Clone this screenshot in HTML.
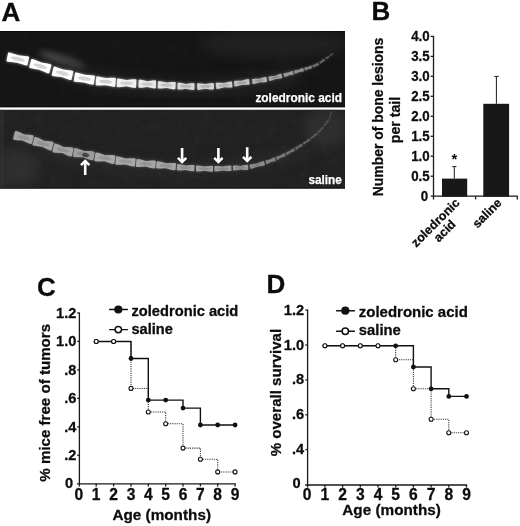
<!DOCTYPE html>
<html lang="en">
<head>
<meta charset="utf-8">
<title>Figure: zoledronic acid vs saline</title>
<style>
html,body{margin:0;padding:0;background:#fff;}
body{width:520px;height:526px;overflow:hidden;}
svg{display:block;will-change:transform;}
text{font-family:"Liberation Sans",Arial,Helvetica,sans-serif;font-weight:bold;fill:#0c0c0c;stroke:#0c0c0c;stroke-width:0.28px;stroke-linejoin:round;}
.wt{fill:#fff;stroke:#fff;stroke-width:0.25px;}
.pl{font-size:26px;}
.ax{stroke:#1a1a1a;stroke-width:1.3;fill:none;}
.sol{stroke:#111;stroke-width:1.4;fill:none;}
.dot{stroke:#3a3a3a;stroke-width:1.05;fill:none;stroke-dasharray:1.2 1;}
.fm{fill:#111;stroke:none;}
.om{fill:#fff;stroke:#111;stroke-width:1.1;}
</style>
</head>
<body>
<svg width="520" height="526" viewBox="0 0 520 526">
<defs>
<filter id="b1" x="-5%" y="-30%" width="110%" height="160%"><feGaussianBlur stdDeviation="0.7"/></filter>
<filter id="b2" x="-5%" y="-30%" width="110%" height="160%"><feGaussianBlur stdDeviation="0.6"/></filter>
<filter id="bloom" x="-5%" y="-50%" width="110%" height="200%"><feGaussianBlur stdDeviation="1.6"/></filter>
<filter id="glow2" x="-30%" y="-100%" width="160%" height="300%"><feGaussianBlur stdDeviation="3"/></filter>
<filter id="glow" x="-20%" y="-50%" width="140%" height="200%"><feGaussianBlur stdDeviation="6"/></filter>
<filter id="noise" x="0" y="0" width="100%" height="100%">
<feTurbulence type="fractalNoise" baseFrequency="0.09" numOctaves="3" seed="4" result="n"/>
<feColorMatrix type="matrix" values="0 0 0 0 1  0 0 0 0 1  0 0 0 0 1  0.5 0.5 0 0 -0.42"/>
</filter>
<clipPath id="c1"><rect x="0" y="31" width="345" height="76.4"/></clipPath>
<clipPath id="c2"><rect x="0" y="109.5" width="345" height="79.2"/></clipPath>
</defs>
<rect width="520" height="526" fill="#fff"/>

<text class="pl" x="1.4" y="20.8">A</text>
<g clip-path="url(#c1)">
<rect x="0" y="31" width="345" height="76.4" fill="#151515"/>
<rect x="0" y="31" width="345" height="76.4" filter="url(#noise)" opacity="0.05"/>
<path d="M0 31.4 H345 M0 107 H345" stroke="#050505" stroke-width="0.9"/>
<ellipse cx="275" cy="44" rx="75" ry="14" fill="#2c2c2c" opacity="0.55" filter="url(#glow)"/>
<ellipse cx="62" cy="60" rx="24" ry="4.5" fill="#6a6a6a" opacity="0.6" filter="url(#glow2)" transform="rotate(18 62 60)"/>
<path d="M60 70 Q180 105 300 74" stroke="#2a2a2a" stroke-width="18" fill="none" opacity="0.5" filter="url(#glow)"/>
<g filter="url(#bloom)" opacity="0.55"><path d="M8.2 52.6 L9.5 52.4 L12.8 53.4 L18.6 55.2 L24.6 55.9 L28.0 56.2 L29.2 57.0 L27.4 65.4 L26.1 65.6 L22.8 64.6 L17.0 62.8 L11.0 62.1 L7.6 61.8 L6.4 61.0Z" fill="#fcfcfc"/>
<path d="M31.4 59.0 L32.8 58.9 L35.9 60.2 L41.4 62.5 L47.2 63.6 L50.6 64.2 L51.6 65.1 L49.2 73.3 L47.8 73.4 L44.7 72.1 L39.2 69.8 L33.4 68.7 L30.0 68.1 L29.0 67.2Z" fill="#fcfcfc"/>
<path d="M53.6 66.8 L54.9 66.6 L58.0 67.7 L63.4 69.6 L69.1 70.3 L72.3 70.7 L73.4 71.5 L71.4 79.9 L70.1 80.1 L67.0 79.0 L61.6 77.1 L55.9 76.4 L52.7 76.0 L51.6 75.2Z" fill="#fcfcfc"/>
<path d="M75.1 72.6 L76.4 72.4 L79.5 73.2 L85.0 74.8 L90.7 75.2 L94.0 75.4 L95.1 76.0 L93.7 84.6 L92.4 84.8 L89.3 84.0 L83.8 82.4 L78.1 82.0 L74.8 81.8 L73.7 81.2Z" fill="#fcfcfc"/>
<path d="M96.2 76.7 L97.5 76.3 L100.6 76.9 L106.0 77.9 L111.6 77.8 L114.8 77.7 L115.9 78.3 L115.3 86.5 L114.0 86.9 L110.9 86.3 L105.5 85.3 L99.9 85.4 L96.7 85.5 L95.6 84.9Z" fill="#f5f5f5"/><path d="M117.1 78.8 L118.2 78.5 L121.3 78.9 L126.7 80.1 L132.2 79.3 L135.3 79.2 L136.5 79.6 L136.1 87.6 L135.0 87.9 L131.9 87.5 L126.5 86.3 L121.0 87.1 L117.9 87.2 L116.7 86.8Z" fill="#f0f0f0"/>
<path d="M138.6 80.0 L139.7 79.6 L142.5 80.0 L147.4 81.2 L152.3 80.4 L155.1 80.3 L156.1 80.7 L155.9 88.1 L154.8 88.5 L152.0 88.1 L147.1 86.9 L142.2 87.7 L139.4 87.8 L138.4 87.4Z" fill="#e8e8e8"/>
<path d="M158.0 81.4 L159.1 81.1 L161.9 81.5 L166.8 82.6 L171.9 82.0 L174.7 81.9 L175.8 82.3 L175.4 89.1 L174.3 89.4 L171.5 89.0 L166.6 87.9 L161.5 88.5 L158.7 88.6 L157.6 88.2Z" fill="#e1e1e1"/>
<path d="M177.6 83.0 L178.6 82.6 L181.3 83.0 L186.1 83.9 L190.9 83.2 L193.6 83.1 L194.6 83.5 L194.4 89.7 L193.4 90.1 L190.7 89.7 L185.9 88.8 L181.1 89.5 L178.4 89.6 L177.4 89.2Z" fill="#d7d7d7"/>
<path d="M197.1 83.6 L198.1 83.3 L200.8 83.4 L205.5 84.1 L210.2 83.2 L212.8 82.9 L213.8 83.2 L214.0 89.2 L213.0 89.5 L210.3 89.4 L205.6 88.7 L200.9 89.6 L198.3 89.9 L197.3 89.6Z" fill="#d2d2d2"/>
<path d="M215.7 83.1 L216.7 82.7 L219.3 82.7 L223.9 83.0 L228.4 81.9 L230.9 81.4 L231.9 81.6 L232.5 87.2 L231.5 87.6 L228.9 87.6 L224.3 87.3 L219.8 88.4 L217.3 88.9 L216.3 88.7Z" fill="#cdcdcd"/>
<path d="M233.9 81.2 L234.8 80.8 L237.2 80.7 L241.6 80.8 L245.7 79.6 L248.1 79.1 L249.1 79.3 L249.7 84.3 L248.8 84.7 L246.4 84.8 L242.0 84.7 L237.9 85.9 L235.5 86.4 L234.5 86.2Z" fill="#c2c2c2"/>
<path d="M252.0 79.3 L252.8 79.0 L255.2 78.8 L259.3 78.8 L263.3 77.6 L265.6 77.1 L266.5 77.2 L267.1 81.8 L266.3 82.1 L263.9 82.3 L259.8 82.3 L255.8 83.5 L253.5 84.0 L252.6 83.9Z" fill="#b4b4b4"/>
<path d="M268.4 77.0 L269.1 76.6 L271.2 76.3 L275.0 75.9 L278.5 74.5 L280.5 73.8 L281.3 73.8 L282.3 77.8 L281.6 78.2 L279.5 78.5 L275.7 78.9 L272.2 80.3 L270.2 81.0 L269.4 81.0Z" fill="#a6a6a6"/>
<path d="M283.4 73.5 L284.0 73.2 L285.5 72.9 L288.2 72.6 L290.7 71.5 L292.1 71.0 L292.7 71.0 L293.7 74.4 L293.1 74.7 L291.6 75.0 L288.9 75.3 L286.4 76.4 L285.0 76.9 L284.4 76.9Z" fill="#989898"/>
<path d="M293.9 70.8 L294.4 70.5 L295.9 70.1 L298.6 69.8 L301.1 68.6 L302.6 68.1 L303.2 68.1 L304.0 71.1 L303.5 71.4 L302.0 71.8 L299.3 72.1 L296.8 73.3 L295.3 73.8 L294.7 73.8Z" fill="#8c8c8c"/>
<path d="M304.3 67.9 L304.6 67.6 L305.8 67.3 L307.9 67.0 L309.7 66.0 L310.8 65.6 L311.3 65.6 L312.1 68.2 L311.8 68.5 L310.6 68.8 L308.5 69.1 L306.7 70.1 L305.6 70.5 L305.1 70.5Z" fill="#808080"/>
<path d="M312.3 65.4 L312.6 65.1 L313.5 64.8 L315.3 64.3 L316.8 63.3 L317.7 62.7 L318.1 62.7 L319.1 64.9 L318.8 65.2 L317.9 65.5 L316.1 66.0 L314.6 67.0 L313.7 67.6 L313.3 67.6Z" fill="#727272"/>
<path d="M319.1 62.2 L319.3 61.9 L320.1 61.4 L321.6 60.6 L322.7 59.5 L323.4 58.9 L323.8 58.8 L325.0 60.4 L324.8 60.7 L324.0 61.2 L322.5 62.0 L321.4 63.1 L320.7 63.7 L320.3 63.8Z" fill="#666666"/>
<path d="M325.0 58.1 L325.2 57.8 L325.8 57.5 L326.9 57.0 L327.8 56.2 L328.3 55.7 L328.6 55.7 L329.6 57.1 L329.4 57.4 L328.8 57.7 L327.7 58.2 L326.8 59.0 L326.3 59.5 L326.0 59.5Z" fill="#5a5a5a"/>
<path d="M329.6 55.1 L329.7 54.9 L330.3 54.6 L331.3 54.1 L332.0 53.3 L332.5 52.9 L332.8 52.9 L333.6 54.1 L333.5 54.3 L332.9 54.6 L331.9 55.1 L331.2 55.9 L330.7 56.3 L330.4 56.3Z" fill="#4e4e4e"/></g>
<g filter="url(#b1)"><path d="M8.2 52.6 L9.5 52.4 L12.8 53.4 L18.6 55.2 L24.6 55.9 L28.0 56.2 L29.2 57.0 L27.4 65.4 L26.1 65.6 L22.8 64.6 L17.0 62.8 L11.0 62.1 L7.6 61.8 L6.4 61.0Z" fill="#fcfcfc"/>
<ellipse cx="17.8" cy="59.0" rx="7.1" ry="2.0" fill="#c0c0c0" opacity="0.65" transform="rotate(11.8 17.8 59.0)"/>
<path d="M31.4 59.0 L32.8 58.9 L35.9 60.2 L41.4 62.5 L47.2 63.6 L50.6 64.2 L51.6 65.1 L49.2 73.3 L47.8 73.4 L44.7 72.1 L39.2 69.8 L33.4 68.7 L30.0 68.1 L29.0 67.2Z" fill="#fcfcfc"/>
<ellipse cx="40.3" cy="66.2" rx="7.0" ry="2.0" fill="#c0c0c0" opacity="0.65" transform="rotate(16.8 40.3 66.2)"/>
<path d="M53.6 66.8 L54.9 66.6 L58.0 67.7 L63.4 69.6 L69.1 70.3 L72.3 70.7 L73.4 71.5 L71.4 79.9 L70.1 80.1 L67.0 79.0 L61.6 77.1 L55.9 76.4 L52.7 76.0 L51.6 75.2Z" fill="#fcfcfc"/>
<ellipse cx="62.5" cy="73.3" rx="6.7" ry="2.0" fill="#c0c0c0" opacity="0.65" transform="rotate(13.4 62.5 73.3)"/>
<path d="M75.1 72.6 L76.4 72.4 L79.5 73.2 L85.0 74.8 L90.7 75.2 L94.0 75.4 L95.1 76.0 L93.7 84.6 L92.4 84.8 L89.3 84.0 L83.8 82.4 L78.1 82.0 L74.8 81.8 L73.7 81.2Z" fill="#fcfcfc"/>
<ellipse cx="84.4" cy="78.6" rx="6.7" ry="2.0" fill="#c0c0c0" opacity="0.65" transform="rotate(9.6 84.4 78.6)"/>
<path d="M96.2 76.7 L97.5 76.3 L100.6 76.9 L106.0 77.9 L111.6 77.8 L114.8 77.7 L115.9 78.3 L115.3 86.5 L114.0 86.9 L110.9 86.3 L105.5 85.3 L99.9 85.4 L96.7 85.5 L95.6 84.9Z" fill="#f5f5f5"/>
<ellipse cx="105.8" cy="81.6" rx="6.5" ry="1.9" fill="#b9b9b9" opacity="0.65" transform="rotate(4.6 105.8 81.6)"/><path d="M117.1 78.8 L118.2 78.5 L121.3 78.9 L126.7 80.1 L132.2 79.3 L135.3 79.2 L136.5 79.6 L136.1 87.6 L135.0 87.9 L131.9 87.5 L126.5 86.3 L121.0 87.1 L117.9 87.2 L116.7 86.8Z" fill="#f0f0f0"/>
<ellipse cx="126.6" cy="83.2" rx="6.4" ry="1.8" fill="#bebebe" opacity="0.65" transform="rotate(2.4 126.6 83.2)"/>
<path d="M138.6 80.0 L139.7 79.6 L142.5 80.0 L147.4 81.2 L152.3 80.4 L155.1 80.3 L156.1 80.7 L155.9 88.1 L154.8 88.5 L152.0 88.1 L147.1 86.9 L142.2 87.7 L139.4 87.8 L138.4 87.4Z" fill="#e8e8e8"/>
<ellipse cx="147.2" cy="84.1" rx="5.8" ry="1.7" fill="#b6b6b6" opacity="0.65" transform="rotate(2.3 147.2 84.1)"/>
<path d="M158.0 81.4 L159.1 81.1 L161.9 81.5 L166.8 82.6 L171.9 82.0 L174.7 81.9 L175.8 82.3 L175.4 89.1 L174.3 89.4 L171.5 89.0 L166.6 87.9 L161.5 88.5 L158.7 88.6 L157.6 88.2Z" fill="#e1e1e1"/>
<ellipse cx="166.7" cy="85.2" rx="5.9" ry="1.6" fill="#afafaf" opacity="0.65" transform="rotate(2.9 166.7 85.2)"/>
<path d="M177.6 83.0 L178.6 82.6 L181.3 83.0 L186.1 83.9 L190.9 83.2 L193.6 83.1 L194.6 83.5 L194.4 89.7 L193.4 90.1 L190.7 89.7 L185.9 88.8 L181.1 89.5 L178.4 89.6 L177.4 89.2Z" fill="#d7d7d7"/>
<ellipse cx="186.0" cy="86.3" rx="5.6" ry="1.5" fill="#a5a5a5" opacity="0.65" transform="rotate(1.7 186.0 86.3)"/>
<path d="M197.1 83.6 L198.1 83.3 L200.8 83.4 L205.5 84.1 L210.2 83.2 L212.8 82.9 L213.8 83.2 L214.0 89.2 L213.0 89.5 L210.3 89.4 L205.6 88.7 L200.9 89.6 L198.3 89.9 L197.3 89.6Z" fill="#d2d2d2"/>
<ellipse cx="205.6" cy="86.4" rx="5.5" ry="1.4" fill="#a0a0a0" opacity="0.65" transform="rotate(-1.4 205.6 86.4)"/>
<path d="M215.7 83.1 L216.7 82.7 L219.3 82.7 L223.9 83.0 L228.4 81.9 L230.9 81.4 L231.9 81.6 L232.5 87.2 L231.5 87.6 L228.9 87.6 L224.3 87.3 L219.8 88.4 L217.3 88.9 L216.3 88.7Z" fill="#cdcdcd"/>
<ellipse cx="224.1" cy="85.2" rx="5.4" ry="1.3" fill="#9b9b9b" opacity="0.65" transform="rotate(-5.3 224.1 85.2)"/>
<path d="M233.9 81.2 L234.8 80.8 L237.2 80.7 L241.6 80.8 L245.7 79.6 L248.1 79.1 L249.1 79.3 L249.7 84.3 L248.8 84.7 L246.4 84.8 L242.0 84.7 L237.9 85.9 L235.5 86.4 L234.5 86.2Z" fill="#c2c2c2"/>
<ellipse cx="241.8" cy="82.8" rx="5.1" ry="1.2" fill="#909090" opacity="0.65" transform="rotate(-7.1 241.8 82.8)"/>
<path d="M252.0 79.3 L252.8 79.0 L255.2 78.8 L259.3 78.8 L263.3 77.6 L265.6 77.1 L266.5 77.2 L267.1 81.8 L266.3 82.1 L263.9 82.3 L259.8 82.3 L255.8 83.5 L253.5 84.0 L252.6 83.9Z" fill="#b4b4b4"/>
<ellipse cx="259.6" cy="80.5" rx="4.8" ry="1.1" fill="#828282" opacity="0.65" transform="rotate(-8.2 259.6 80.5)"/>
<path d="M268.4 77.0 L269.1 76.6 L271.2 76.3 L275.0 75.9 L278.5 74.5 L280.5 73.8 L281.3 73.8 L282.3 77.8 L281.6 78.2 L279.5 78.5 L275.7 78.9 L272.2 80.3 L270.2 81.0 L269.4 81.0Z" fill="#a6a6a6"/>
<ellipse cx="275.4" cy="77.4" rx="4.4" ry="0.9" fill="#747474" opacity="0.65" transform="rotate(-13.9 275.4 77.4)"/>
<path d="M283.4 73.5 L284.0 73.2 L285.5 72.9 L288.2 72.6 L290.7 71.5 L292.1 71.0 L292.7 71.0 L293.7 74.4 L293.1 74.7 L291.6 75.0 L288.9 75.3 L286.4 76.4 L285.0 76.9 L284.4 76.9Z" fill="#989898"/>
<path d="M293.9 70.8 L294.4 70.5 L295.9 70.1 L298.6 69.8 L301.1 68.6 L302.6 68.1 L303.2 68.1 L304.0 71.1 L303.5 71.4 L302.0 71.8 L299.3 72.1 L296.8 73.3 L295.3 73.8 L294.7 73.8Z" fill="#8c8c8c"/>
<path d="M304.3 67.9 L304.6 67.6 L305.8 67.3 L307.9 67.0 L309.7 66.0 L310.8 65.6 L311.3 65.6 L312.1 68.2 L311.8 68.5 L310.6 68.8 L308.5 69.1 L306.7 70.1 L305.6 70.5 L305.1 70.5Z" fill="#808080"/>
<path d="M312.3 65.4 L312.6 65.1 L313.5 64.8 L315.3 64.3 L316.8 63.3 L317.7 62.7 L318.1 62.7 L319.1 64.9 L318.8 65.2 L317.9 65.5 L316.1 66.0 L314.6 67.0 L313.7 67.6 L313.3 67.6Z" fill="#727272"/>
<path d="M319.1 62.2 L319.3 61.9 L320.1 61.4 L321.6 60.6 L322.7 59.5 L323.4 58.9 L323.8 58.8 L325.0 60.4 L324.8 60.7 L324.0 61.2 L322.5 62.0 L321.4 63.1 L320.7 63.7 L320.3 63.8Z" fill="#666666"/>
<path d="M325.0 58.1 L325.2 57.8 L325.8 57.5 L326.9 57.0 L327.8 56.2 L328.3 55.7 L328.6 55.7 L329.6 57.1 L329.4 57.4 L328.8 57.7 L327.7 58.2 L326.8 59.0 L326.3 59.5 L326.0 59.5Z" fill="#5a5a5a"/>
<path d="M329.6 55.1 L329.7 54.9 L330.3 54.6 L331.3 54.1 L332.0 53.3 L332.5 52.9 L332.8 52.9 L333.6 54.1 L333.5 54.3 L332.9 54.6 L331.9 55.1 L331.2 55.9 L330.7 56.3 L330.4 56.3Z" fill="#4e4e4e"/></g>
</g>
<text x="342" y="101.6" text-anchor="end" class="wt" style="font-size:12.6px" textLength="86.6" lengthAdjust="spacingAndGlyphs">zoledronic acid</text>
<g clip-path="url(#c2)">
<rect x="0" y="109.5" width="345" height="79.2" fill="#212121"/>
<rect x="0" y="109.5" width="345" height="79.2" filter="url(#noise)" opacity="0.07"/>
<path d="M0 188.3 H345" stroke="#0a0a0a" stroke-width="0.9"/>
<rect x="0" y="109.5" width="4" height="79.2" fill="#3a3a3a" opacity="0.4" filter="url(#b1)"/>
<ellipse cx="18" cy="168" rx="22" ry="20" fill="#383838" opacity="0.6" filter="url(#glow)"/>
<ellipse cx="325" cy="128" rx="22" ry="20" fill="#383838" opacity="0.6" filter="url(#glow)"/>
<path d="M40 150 Q180 190 310 150" stroke="#303030" stroke-width="14" fill="none" opacity="0.4" filter="url(#glow)"/>
<g filter="url(#bloom)" opacity="0.4"><path d="M15.0 131.2 L16.2 131.0 L19.2 132.1 L24.2 134.4 L29.7 134.8 L32.8 135.3 L33.8 136.0 L31.8 143.8 L30.6 144.0 L27.6 142.9 L22.6 140.6 L17.1 140.2 L14.0 139.7 L13.0 139.0Z" fill="#a4a4a4"/>
<path d="M34.5 137.0 L35.8 136.9 L38.8 138.1 L43.9 140.7 L49.5 141.3 L52.7 141.8 L53.7 142.6 L51.5 150.4 L50.2 150.5 L47.2 149.3 L42.1 146.7 L36.5 146.1 L33.3 145.6 L32.3 144.8Z" fill="#a4a4a4"/>
<path d="M54.2 143.8 L55.5 143.6 L58.5 144.6 L63.7 146.9 L69.4 147.2 L72.6 147.6 L73.6 148.4 L71.8 156.2 L70.5 156.4 L67.5 155.4 L62.3 153.1 L56.6 152.8 L53.4 152.4 L52.4 151.6Z" fill="#a4a4a4"/>
<path d="M74.2 148.3 L75.6 148.1 L78.8 149.0 L84.3 151.1 L90.3 151.1 L93.6 151.4 L94.7 152.1 L93.3 160.1 L91.9 160.3 L88.7 159.4 L83.2 157.3 L77.2 157.3 L73.9 157.0 L72.8 156.3Z" fill="#9c9c9c"/>
<path d="M95.4 152.8 L96.7 152.5 L99.8 153.3 L105.3 155.2 L111.1 155.1 L114.4 155.3 L115.5 155.9 L114.3 163.7 L113.0 164.0 L109.9 163.2 L104.4 161.3 L98.6 161.4 L95.3 161.2 L94.2 160.6Z" fill="#a8a8a8"/>
<path d="M116.1 156.6 L117.3 156.3 L120.4 157.0 L125.8 158.5 L131.4 158.2 L134.6 158.2 L135.7 158.7 L134.9 166.3 L133.7 166.6 L130.6 165.9 L125.2 164.4 L119.6 164.7 L116.4 164.7 L115.3 164.2Z" fill="#a8a8a8"/>
<path d="M136.4 159.4 L137.6 159.1 L140.7 159.6 L146.0 161.0 L151.6 160.6 L154.7 160.6 L155.8 161.1 L155.2 168.1 L154.0 168.4 L150.9 167.9 L145.6 166.5 L140.0 166.9 L136.9 166.9 L135.8 166.4Z" fill="#a6a6a6"/>
<path d="M156.6 161.5 L157.8 161.2 L160.9 161.8 L166.3 163.2 L171.8 162.9 L175.0 162.9 L176.1 163.4 L175.5 170.0 L174.3 170.3 L171.2 169.7 L165.8 168.3 L160.3 168.6 L157.1 168.6 L156.0 168.1Z" fill="#a4a4a4"/>
<path d="M177.2 164.3 L178.2 164.1 L181.0 164.4 L185.8 165.5 L190.7 165.0 L193.5 164.9 L194.6 165.3 L194.2 171.1 L193.2 171.3 L190.4 171.0 L185.6 169.9 L180.7 170.4 L177.9 170.5 L176.8 170.1Z" fill="#a2a2a2"/>
<path d="M196.0 165.8 L197.1 165.5 L199.8 165.8 L204.5 166.6 L209.3 165.9 L212.0 165.8 L213.0 166.1 L213.0 171.5 L211.9 171.8 L209.2 171.5 L204.5 170.7 L199.7 171.4 L197.0 171.5 L196.0 171.2Z" fill="#a0a0a0"/>
<path d="M214.3 166.3 L215.3 166.0 L218.1 166.1 L222.8 166.6 L227.6 165.8 L230.3 165.5 L231.3 165.8 L231.5 170.8 L230.5 171.1 L227.7 171.0 L223.0 170.5 L218.2 171.3 L215.5 171.6 L214.5 171.3Z" fill="#9c9c9c"/>
<path d="M232.9 165.8 L233.8 165.5 L236.2 165.5 L240.5 165.9 L244.7 165.1 L247.2 164.8 L248.1 165.0 L248.3 169.6 L247.4 169.9 L245.0 169.9 L240.7 169.5 L236.5 170.3 L234.0 170.6 L233.1 170.4Z" fill="#989898"/>
<path d="M249.5 164.9 L250.3 164.5 L252.6 164.0 L256.8 163.5 L260.7 161.9 L263.0 161.2 L263.9 161.1 L264.9 165.1 L264.1 165.5 L261.8 166.0 L257.6 166.5 L253.7 168.1 L251.4 168.8 L250.5 168.9Z" fill="#8e8e8e"/>
<path d="M265.2 160.8 L265.7 160.5 L267.3 160.0 L270.1 159.5 L272.6 158.1 L274.1 157.5 L274.7 157.4 L275.9 160.8 L275.4 161.1 L273.8 161.6 L271.0 162.1 L268.5 163.5 L267.0 164.1 L266.4 164.2Z" fill="#828282"/>
<path d="M275.7 157.2 L276.1 156.8 L277.6 156.3 L280.3 155.5 L282.7 154.0 L284.1 153.2 L284.7 153.1 L285.9 155.9 L285.5 156.3 L284.0 156.8 L281.3 157.6 L278.9 159.1 L277.5 159.9 L276.9 160.0Z" fill="#7a7a7a"/>
<path d="M285.6 152.7 L286.1 152.3 L287.4 151.7 L289.8 150.8 L291.9 149.2 L293.1 148.4 L293.6 148.3 L295.0 150.7 L294.5 151.1 L293.2 151.7 L290.8 152.6 L288.7 154.2 L287.5 155.0 L287.0 155.1Z" fill="#727272"/>
<path d="M294.7 147.8 L295.1 147.4 L296.2 146.9 L298.3 146.0 L300.1 144.6 L301.2 143.8 L301.7 143.7 L302.9 145.7 L302.5 146.1 L301.4 146.6 L299.3 147.5 L297.5 148.9 L296.4 149.7 L295.9 149.8Z" fill="#6a6a6a"/>
<path d="M302.7 143.0 L303.0 142.7 L304.1 142.0 L306.1 141.0 L307.8 139.5 L308.8 138.7 L309.2 138.5 L310.4 140.3 L310.1 140.6 L309.0 141.3 L307.0 142.3 L305.3 143.8 L304.3 144.6 L303.9 144.8Z" fill="#646464"/>
<path d="M310.2 137.9 L310.5 137.5 L311.5 136.8 L313.4 135.7 L314.9 134.1 L315.8 133.3 L316.2 133.1 L317.4 134.5 L317.1 134.9 L316.1 135.6 L314.2 136.7 L312.7 138.3 L311.8 139.1 L311.4 139.3Z" fill="#5e5e5e"/>
<path d="M317.2 132.2 L317.5 131.8 L318.4 131.0 L320.0 129.6 L321.4 127.9 L322.2 126.9 L322.6 126.6 L323.8 127.8 L323.5 128.2 L322.6 129.0 L321.0 130.4 L319.6 132.1 L318.8 133.1 L318.4 133.4Z" fill="#585858"/>
<path d="M323.7 125.6 L323.9 125.2 L324.6 124.1 L326.0 122.4 L327.1 120.4 L327.8 119.4 L328.1 119.0 L329.3 119.8 L329.1 120.2 L328.4 121.3 L327.0 123.0 L325.9 125.0 L325.2 126.0 L324.9 126.4Z" fill="#525252"/>
<path d="M328.7 118.0 L328.8 117.6 L329.2 116.5 L330.0 114.7 L330.5 112.8 L330.8 111.8 L331.0 111.4 L332.2 111.8 L332.1 112.2 L331.7 113.3 L330.9 115.1 L330.4 117.0 L330.1 118.0 L329.9 118.4Z" fill="#4a4a4a"/></g>
<g filter="url(#b2)"><path d="M15.0 131.2 L16.2 131.0 L19.2 132.1 L24.2 134.4 L29.7 134.8 L32.8 135.3 L33.8 136.0 L31.8 143.8 L30.6 144.0 L27.6 142.9 L22.6 140.6 L17.1 140.2 L14.0 139.7 L13.0 139.0Z" fill="#a4a4a4"/>
<ellipse cx="23.4" cy="137.5" rx="6.4" ry="1.9" fill="#888888" opacity="0.65" transform="rotate(14.3 23.4 137.5)"/>
<path d="M34.5 137.0 L35.8 136.9 L38.8 138.1 L43.9 140.7 L49.5 141.3 L52.7 141.8 L53.7 142.6 L51.5 150.4 L50.2 150.5 L47.2 149.3 L42.1 146.7 L36.5 146.1 L33.3 145.6 L32.3 144.8Z" fill="#a4a4a4"/>
<ellipse cx="43.0" cy="143.7" rx="6.6" ry="1.9" fill="#888888" opacity="0.65" transform="rotate(16.3 43.0 143.7)"/>
<path d="M54.2 143.8 L55.5 143.6 L58.5 144.6 L63.7 146.9 L69.4 147.2 L72.6 147.6 L73.6 148.4 L71.8 156.2 L70.5 156.4 L67.5 155.4 L62.3 153.1 L56.6 152.8 L53.4 152.4 L52.4 151.6Z" fill="#a4a4a4"/>
<ellipse cx="63.0" cy="150.0" rx="6.6" ry="1.9" fill="#888888" opacity="0.65" transform="rotate(13.3 63.0 150.0)"/>
<path d="M74.2 148.3 L75.6 148.1 L78.8 149.0 L84.3 151.1 L90.3 151.1 L93.6 151.4 L94.7 152.1 L93.3 160.1 L91.9 160.3 L88.7 159.4 L83.2 157.3 L77.2 157.3 L73.9 157.0 L72.8 156.3Z" fill="#9c9c9c"/>
<ellipse cx="83.8" cy="154.2" rx="6.9" ry="1.9" fill="#808080" opacity="0.65" transform="rotate(10.5 83.8 154.2)"/>
<path d="M95.4 152.8 L96.7 152.5 L99.8 153.3 L105.3 155.2 L111.1 155.1 L114.4 155.3 L115.5 155.9 L114.3 163.7 L113.0 164.0 L109.9 163.2 L104.4 161.3 L98.6 161.4 L95.3 161.2 L94.2 160.6Z" fill="#a8a8a8"/>
<ellipse cx="104.8" cy="158.2" rx="6.7" ry="1.8" fill="#8c8c8c" opacity="0.65" transform="rotate(8.8 104.8 158.2)"/>
<path d="M116.1 156.6 L117.3 156.3 L120.4 157.0 L125.8 158.5 L131.4 158.2 L134.6 158.2 L135.7 158.7 L134.9 166.3 L133.7 166.6 L130.6 165.9 L125.2 164.4 L119.6 164.7 L116.4 164.7 L115.3 164.2Z" fill="#a8a8a8"/>
<ellipse cx="125.5" cy="161.4" rx="6.5" ry="1.8" fill="#8c8c8c" opacity="0.65" transform="rotate(6.1 125.5 161.4)"/>
<path d="M136.4 159.4 L137.6 159.1 L140.7 159.6 L146.0 161.0 L151.6 160.6 L154.7 160.6 L155.8 161.1 L155.2 168.1 L154.0 168.4 L150.9 167.9 L145.6 166.5 L140.0 166.9 L136.9 166.9 L135.8 166.4Z" fill="#a6a6a6"/>
<ellipse cx="145.8" cy="163.8" rx="6.4" ry="1.7" fill="#8a8a8a" opacity="0.65" transform="rotate(5.0 145.8 163.8)"/>
<path d="M156.6 161.5 L157.8 161.2 L160.9 161.8 L166.3 163.2 L171.8 162.9 L175.0 162.9 L176.1 163.4 L175.5 170.0 L174.3 170.3 L171.2 169.7 L165.8 168.3 L160.3 168.6 L157.1 168.6 L156.0 168.1Z" fill="#a4a4a4"/>
<ellipse cx="166.1" cy="165.8" rx="6.5" ry="1.6" fill="#888888" opacity="0.65" transform="rotate(5.6 166.1 165.8)"/>
<path d="M177.2 164.3 L178.2 164.1 L181.0 164.4 L185.8 165.5 L190.7 165.0 L193.5 164.9 L194.6 165.3 L194.2 171.1 L193.2 171.3 L190.4 171.0 L185.6 169.9 L180.7 170.4 L177.9 170.5 L176.8 170.1Z" fill="#a2a2a2"/>
<ellipse cx="185.7" cy="167.7" rx="5.8" ry="1.3" fill="#868686" opacity="0.65" transform="rotate(3.3 185.7 167.7)"/>
<path d="M196.0 165.8 L197.1 165.5 L199.8 165.8 L204.5 166.6 L209.3 165.9 L212.0 165.8 L213.0 166.1 L213.0 171.5 L211.9 171.8 L209.2 171.5 L204.5 170.7 L199.7 171.4 L197.0 171.5 L196.0 171.2Z" fill="#a0a0a0"/>
<ellipse cx="204.5" cy="168.7" rx="5.6" ry="1.3" fill="#848484" opacity="0.65" transform="rotate(1.0 204.5 168.7)"/>
<path d="M214.3 166.3 L215.3 166.0 L218.1 166.1 L222.8 166.6 L227.6 165.8 L230.3 165.5 L231.3 165.8 L231.5 170.8 L230.5 171.1 L227.7 171.0 L223.0 170.5 L218.2 171.3 L215.5 171.6 L214.5 171.3Z" fill="#9c9c9c"/>
<ellipse cx="222.9" cy="168.6" rx="5.6" ry="1.2" fill="#808080" opacity="0.65" transform="rotate(-1.7 222.9 168.6)"/>
<path d="M232.9 165.8 L233.8 165.5 L236.2 165.5 L240.5 165.9 L244.7 165.1 L247.2 164.8 L248.1 165.0 L248.3 169.6 L247.4 169.9 L245.0 169.9 L240.7 169.5 L236.5 170.3 L234.0 170.6 L233.1 170.4Z" fill="#989898"/>
<ellipse cx="240.6" cy="167.7" rx="5.0" ry="1.1" fill="#7c7c7c" opacity="0.65" transform="rotate(-3.0 240.6 167.7)"/>
<path d="M249.5 164.9 L250.3 164.5 L252.6 164.0 L256.8 163.5 L260.7 161.9 L263.0 161.2 L263.9 161.1 L264.9 165.1 L264.1 165.5 L261.8 166.0 L257.6 166.5 L253.7 168.1 L251.4 168.8 L250.5 168.9Z" fill="#8e8e8e"/>
<ellipse cx="257.2" cy="165.0" rx="4.9" ry="0.9" fill="#727272" opacity="0.65" transform="rotate(-14.8 257.2 165.0)"/>
<path d="M265.2 160.8 L265.7 160.5 L267.3 160.0 L270.1 159.5 L272.6 158.1 L274.1 157.5 L274.7 157.4 L275.9 160.8 L275.4 161.1 L273.8 161.6 L271.0 162.1 L268.5 163.5 L267.0 164.1 L266.4 164.2Z" fill="#828282"/>
<path d="M275.7 157.2 L276.1 156.8 L277.6 156.3 L280.3 155.5 L282.7 154.0 L284.1 153.2 L284.7 153.1 L285.9 155.9 L285.5 156.3 L284.0 156.8 L281.3 157.6 L278.9 159.1 L277.5 159.9 L276.9 160.0Z" fill="#7a7a7a"/>
<path d="M285.6 152.7 L286.1 152.3 L287.4 151.7 L289.8 150.8 L291.9 149.2 L293.1 148.4 L293.6 148.3 L295.0 150.7 L294.5 151.1 L293.2 151.7 L290.8 152.6 L288.7 154.2 L287.5 155.0 L287.0 155.1Z" fill="#727272"/>
<path d="M294.7 147.8 L295.1 147.4 L296.2 146.9 L298.3 146.0 L300.1 144.6 L301.2 143.8 L301.7 143.7 L302.9 145.7 L302.5 146.1 L301.4 146.6 L299.3 147.5 L297.5 148.9 L296.4 149.7 L295.9 149.8Z" fill="#6a6a6a"/>
<path d="M302.7 143.0 L303.0 142.7 L304.1 142.0 L306.1 141.0 L307.8 139.5 L308.8 138.7 L309.2 138.5 L310.4 140.3 L310.1 140.6 L309.0 141.3 L307.0 142.3 L305.3 143.8 L304.3 144.6 L303.9 144.8Z" fill="#646464"/>
<path d="M310.2 137.9 L310.5 137.5 L311.5 136.8 L313.4 135.7 L314.9 134.1 L315.8 133.3 L316.2 133.1 L317.4 134.5 L317.1 134.9 L316.1 135.6 L314.2 136.7 L312.7 138.3 L311.8 139.1 L311.4 139.3Z" fill="#5e5e5e"/>
<path d="M317.2 132.2 L317.5 131.8 L318.4 131.0 L320.0 129.6 L321.4 127.9 L322.2 126.9 L322.6 126.6 L323.8 127.8 L323.5 128.2 L322.6 129.0 L321.0 130.4 L319.6 132.1 L318.8 133.1 L318.4 133.4Z" fill="#585858"/>
<path d="M323.7 125.6 L323.9 125.2 L324.6 124.1 L326.0 122.4 L327.1 120.4 L327.8 119.4 L328.1 119.0 L329.3 119.8 L329.1 120.2 L328.4 121.3 L327.0 123.0 L325.9 125.0 L325.2 126.0 L324.9 126.4Z" fill="#525252"/>
<path d="M328.7 118.0 L328.8 117.6 L329.2 116.5 L330.0 114.7 L330.5 112.8 L330.8 111.8 L331.0 111.4 L332.2 111.8 L332.1 112.2 L331.7 113.3 L330.9 115.1 L330.4 117.0 L330.1 118.0 L329.9 118.4Z" fill="#4a4a4a"/>
<ellipse cx="85.6" cy="155" rx="3.4" ry="2.1" fill="#454545" transform="rotate(10 85.6 155)"/>
</g>
<g stroke="#fff" fill="none" stroke-linecap="butt" stroke-linejoin="miter"><path d="M85.2 174.9 V160.6" stroke-width="2.6"/><path d="M81.0 165.1 L85.2 160.9 L89.4 165.1" stroke-width="2.5"/></g>
<g stroke="#fff" fill="none" stroke-linecap="butt" stroke-linejoin="miter"><path d="M182.1 147.9 V162.3" stroke-width="2.6"/><path d="M177.9 157.8 L182.1 162.0 L186.3 157.8" stroke-width="2.5"/></g>
<g stroke="#fff" fill="none" stroke-linecap="butt" stroke-linejoin="miter"><path d="M218.4 147.9 V162.3" stroke-width="2.6"/><path d="M214.2 157.8 L218.4 162.0 L222.6 157.8" stroke-width="2.5"/></g>
<g stroke="#fff" fill="none" stroke-linecap="butt" stroke-linejoin="miter"><path d="M247.2 147.2 V161.3" stroke-width="2.6"/><path d="M243.0 156.8 L247.2 161.0 L251.4 156.8" stroke-width="2.5"/></g>
</g>
<text x="341.8" y="183.7" text-anchor="end" class="wt" style="font-size:12.6px" textLength="33.4" lengthAdjust="spacingAndGlyphs">saline</text>
<text class="pl" x="371.4" y="20.3">B</text>
<path class="ax" d="M433.5 35.9 V199.4 M430.7 196.2 H517.9"/>
<text x="428.2" y="201.0" text-anchor="end" style="font-size:14.5px" textLength="7.4" lengthAdjust="spacingAndGlyphs">0</text>
<path class="ax" d="M430.7 176.2 H433.5"/>
<text x="429.7" y="181.0" text-anchor="end" style="font-size:14.5px" textLength="18.5" lengthAdjust="spacingAndGlyphs">0.5</text>
<path class="ax" d="M430.7 156.2 H433.5"/>
<text x="429.7" y="161.1" text-anchor="end" style="font-size:14.5px" textLength="18.5" lengthAdjust="spacingAndGlyphs">1.0</text>
<path class="ax" d="M430.7 136.3 H433.5"/>
<text x="429.7" y="141.1" text-anchor="end" style="font-size:14.5px" textLength="18.5" lengthAdjust="spacingAndGlyphs">1.5</text>
<path class="ax" d="M430.7 116.3 H433.5"/>
<text x="429.7" y="121.1" text-anchor="end" style="font-size:14.5px" textLength="18.5" lengthAdjust="spacingAndGlyphs">2.0</text>
<path class="ax" d="M430.7 96.3 H433.5"/>
<text x="429.7" y="101.1" text-anchor="end" style="font-size:14.5px" textLength="18.5" lengthAdjust="spacingAndGlyphs">2.5</text>
<path class="ax" d="M430.7 76.3 H433.5"/>
<text x="429.7" y="81.1" text-anchor="end" style="font-size:14.5px" textLength="18.5" lengthAdjust="spacingAndGlyphs">3.0</text>
<path class="ax" d="M430.7 56.4 H433.5"/>
<text x="429.7" y="61.2" text-anchor="end" style="font-size:14.5px" textLength="18.5" lengthAdjust="spacingAndGlyphs">3.5</text>
<path class="ax" d="M430.7 36.4 H433.5"/>
<text x="429.7" y="41.2" text-anchor="end" style="font-size:14.5px" textLength="18.5" lengthAdjust="spacingAndGlyphs">4.0</text>
<path class="ax" d="M475.6 196.2 V199.4"/>
<path class="ax" d="M517.3 196.2 V199.4"/>
<rect x="442" y="178.6" width="25.2" height="18.1" fill="#181818"/>
<rect x="483.3" y="103.8" width="25.8" height="92.9" fill="#181818"/>
<path class="ax" style="stroke-width:1" d="M454.3 178.6 V166.6 M452.3 166.6 H456.4"/>
<path class="ax" style="stroke-width:1" d="M496.4 103.8 V76.4 M494.2 76.4 H498.6"/>
<text x="454.3" y="164.2" text-anchor="middle" style="font-size:15px;stroke:none">*</text>
<text transform="translate(383.4,117) rotate(-90)" text-anchor="middle" style="font-size:14.2px" textLength="158.6" lengthAdjust="spacingAndGlyphs">Number of bone lesions</text>
<text transform="translate(399.9,120) rotate(-90)" text-anchor="middle" style="font-size:14.2px">per tail</text>
<text transform="translate(460.5,203.5) rotate(-45)" text-anchor="end" style="font-size:12.5px">zoledronic</text>
<text transform="translate(456.5,225) rotate(-45)" text-anchor="end" style="font-size:12.5px">acid</text>
<text transform="translate(502.5,203.6) rotate(-45)" text-anchor="end" style="font-size:12.5px">saline</text>
<text class="pl" x="36.9" y="295.7">C</text>
<path class="ax" d="M79.4 312.5 V486.4 M77.0 483.8 H235.7"/>
<text x="73.0" y="487.5" text-anchor="end" style="font-size:14.6px">0</text>
<path class="ax" d="M77.2 455.3 H79.4"/>
<text x="76.4" y="460.3" text-anchor="end" style="font-size:14.6px">.2</text>
<path class="ax" d="M77.2 426.9 H79.4"/>
<text x="76.4" y="431.9" text-anchor="end" style="font-size:14.6px">.4</text>
<path class="ax" d="M77.2 398.4 H79.4"/>
<text x="76.4" y="403.4" text-anchor="end" style="font-size:14.6px">.6</text>
<path class="ax" d="M77.2 369.9 H79.4"/>
<text x="76.4" y="374.9" text-anchor="end" style="font-size:14.6px">.8</text>
<path class="ax" d="M77.2 341.4 H79.4"/>
<text x="76.4" y="346.4" text-anchor="end" style="font-size:14.6px">1.0</text>
<path class="ax" d="M77.2 313.0 H79.4"/>
<text x="76.4" y="318.0" text-anchor="end" style="font-size:14.6px">1.2</text>
<text x="78.9" y="499.5" text-anchor="middle" style="font-size:15.6px">0</text>
<path class="ax" d="M96.2 483.8 V486.4"/>
<text x="96.2" y="499.5" text-anchor="middle" style="font-size:15.6px">1</text>
<path class="ax" d="M113.6 483.8 V486.4"/>
<text x="113.6" y="499.5" text-anchor="middle" style="font-size:15.6px">2</text>
<path class="ax" d="M131.0 483.8 V486.4"/>
<text x="131.0" y="499.5" text-anchor="middle" style="font-size:15.6px">3</text>
<path class="ax" d="M148.3 483.8 V486.4"/>
<text x="148.3" y="499.5" text-anchor="middle" style="font-size:15.6px">4</text>
<path class="ax" d="M165.7 483.8 V486.4"/>
<text x="165.7" y="499.5" text-anchor="middle" style="font-size:15.6px">5</text>
<path class="ax" d="M183.0 483.8 V486.4"/>
<text x="183.0" y="499.5" text-anchor="middle" style="font-size:15.6px">6</text>
<path class="ax" d="M200.4 483.8 V486.4"/>
<text x="200.4" y="499.5" text-anchor="middle" style="font-size:15.6px">7</text>
<path class="ax" d="M217.7 483.8 V486.4"/>
<text x="217.7" y="499.5" text-anchor="middle" style="font-size:15.6px">8</text>
<path class="ax" d="M235.1 483.8 V486.4"/>
<text x="235.1" y="499.5" text-anchor="middle" style="font-size:15.6px">9</text>
<text x="161.7" y="519.6" text-anchor="middle" style="font-size:15.3px">Age (months)</text>
<text transform="translate(50.0,402.8) rotate(-90)" text-anchor="middle" style="font-size:15.1px">% mice free of tumors</text>
<path class="dot" d="M96.2 341.5 H113.6 V341.5 H131.0 V388.4 H148.3 V412.0 H165.7 V423.8 H183.0 V448.1 H200.4 V459.3 H217.7 V471.9 H235.1 V471.9"/>
<path class="sol" d="M96.2 341.5 H113.6 V341.5 H131.0 V358.5 H148.3 V400.1 H165.7 V400.1 H183.0 V408.1 H200.4 V425.0 H217.7 V425.0 H235.1 V425.0"/>
<circle class="fm" cx="96.2" cy="341.5" r="2.4"/>
<circle class="fm" cx="113.6" cy="341.5" r="2.4"/>
<circle class="fm" cx="131.0" cy="358.5" r="2.4"/>
<circle class="fm" cx="148.3" cy="400.1" r="2.4"/>
<circle class="fm" cx="165.7" cy="400.1" r="2.4"/>
<circle class="fm" cx="183.0" cy="408.1" r="2.4"/>
<circle class="fm" cx="200.4" cy="425.0" r="2.4"/>
<circle class="fm" cx="217.7" cy="425.0" r="2.4"/>
<circle class="fm" cx="235.1" cy="425.0" r="2.4"/>
<circle class="om" cx="96.2" cy="341.5" r="2"/>
<circle class="om" cx="113.6" cy="341.5" r="2"/>
<circle class="om" cx="131.0" cy="388.4" r="2"/>
<circle class="om" cx="148.3" cy="412.0" r="2"/>
<circle class="om" cx="165.7" cy="423.8" r="2"/>
<circle class="om" cx="183.0" cy="448.1" r="2"/>
<circle class="om" cx="200.4" cy="459.3" r="2"/>
<circle class="om" cx="217.7" cy="471.9" r="2"/>
<circle class="om" cx="235.1" cy="471.9" r="2"/>
<path class="sol" d="M109.1 309.5 H127.9 M109.1 329.6 H127.9"/>
<circle class="fm" cx="118.3" cy="309.5" r="4.1"/>
<circle class="om" style="stroke-width:1.5" cx="118.3" cy="329.6" r="3.2"/>
<text x="131.5" y="316.0" style="font-size:14.6px" textLength="106.8" lengthAdjust="spacingAndGlyphs">zoledronic acid</text>
<text x="131.5" y="334.0" style="font-size:14.6px" textLength="41.3" lengthAdjust="spacingAndGlyphs">saline</text>
<text class="pl" x="266.4" y="293.4">D</text>
<path class="ax" d="M307.6 309.6 V487.6 M305.2 485.0 H467.1"/>
<text x="300.7" y="488.2" text-anchor="end" style="font-size:14.6px">0</text>
<path class="ax" d="M305.4 449.6 H307.6"/>
<text x="304.1" y="454.1" text-anchor="end" style="font-size:14.6px">.4</text>
<path class="ax" d="M305.4 414.8 H307.6"/>
<text x="304.1" y="419.3" text-anchor="end" style="font-size:14.6px">.6</text>
<path class="ax" d="M305.4 379.9 H307.6"/>
<text x="304.1" y="384.4" text-anchor="end" style="font-size:14.6px">.8</text>
<path class="ax" d="M305.4 345.0 H307.6"/>
<text x="304.1" y="349.5" text-anchor="end" style="font-size:14.6px">1.0</text>
<path class="ax" d="M305.4 310.1 H307.6"/>
<text x="304.1" y="314.6" text-anchor="end" style="font-size:14.6px">1.2</text>
<text x="307.2" y="500.4" text-anchor="middle" style="font-size:15.6px">0</text>
<path class="ax" d="M324.9 485.0 V487.6"/>
<text x="324.9" y="500.4" text-anchor="middle" style="font-size:15.6px">1</text>
<path class="ax" d="M342.6 485.0 V487.6"/>
<text x="342.6" y="500.4" text-anchor="middle" style="font-size:15.6px">2</text>
<path class="ax" d="M360.3 485.0 V487.6"/>
<text x="360.3" y="500.4" text-anchor="middle" style="font-size:15.6px">3</text>
<path class="ax" d="M378.0 485.0 V487.6"/>
<text x="378.0" y="500.4" text-anchor="middle" style="font-size:15.6px">4</text>
<path class="ax" d="M395.7 485.0 V487.6"/>
<text x="395.7" y="500.4" text-anchor="middle" style="font-size:15.6px">5</text>
<path class="ax" d="M413.4 485.0 V487.6"/>
<text x="413.4" y="500.4" text-anchor="middle" style="font-size:15.6px">6</text>
<path class="ax" d="M431.1 485.0 V487.6"/>
<text x="431.1" y="500.4" text-anchor="middle" style="font-size:15.6px">7</text>
<path class="ax" d="M448.8 485.0 V487.6"/>
<text x="448.8" y="500.4" text-anchor="middle" style="font-size:15.6px">8</text>
<path class="ax" d="M466.5 485.0 V487.6"/>
<text x="466.5" y="500.4" text-anchor="middle" style="font-size:15.6px">9</text>
<text x="391.6" y="515.3" text-anchor="middle" style="font-size:15.3px">Age (months)</text>
<text transform="translate(280.6,392.6) rotate(-90)" text-anchor="middle" style="font-size:15.1px">% overall survival</text>
<path class="dot" d="M324.9 345.8 H342.6 V345.8 H360.3 V345.8 H378.0 V345.8 H395.7 V359.7 H413.4 V388.8 H431.1 V419.3 H448.8 V432.7 H466.5 V432.7"/>
<path class="sol" d="M324.9 345.8 H342.6 V345.8 H360.3 V345.8 H378.0 V345.8 H395.7 V345.8 H413.4 V367.0 H431.1 V388.8 H448.8 V396.4 H466.5 V396.4"/>
<circle class="fm" cx="324.9" cy="345.8" r="2.4"/>
<circle class="fm" cx="342.6" cy="345.8" r="2.4"/>
<circle class="fm" cx="360.3" cy="345.8" r="2.4"/>
<circle class="fm" cx="378.0" cy="345.8" r="2.4"/>
<circle class="fm" cx="395.7" cy="345.8" r="2.4"/>
<circle class="fm" cx="413.4" cy="367.0" r="2.4"/>
<circle class="fm" cx="431.1" cy="388.8" r="2.4"/>
<circle class="fm" cx="448.8" cy="396.4" r="2.4"/>
<circle class="fm" cx="466.5" cy="396.4" r="2.4"/>
<circle class="om" cx="324.9" cy="345.8" r="2"/>
<circle class="om" cx="342.6" cy="345.8" r="2"/>
<circle class="om" cx="360.3" cy="345.8" r="2"/>
<circle class="om" cx="378.0" cy="345.8" r="2"/>
<circle class="om" cx="395.7" cy="359.7" r="2"/>
<circle class="om" cx="413.4" cy="388.8" r="2"/>
<circle class="om" cx="431.1" cy="419.3" r="2"/>
<circle class="om" cx="448.8" cy="432.7" r="2"/>
<circle class="om" cx="466.5" cy="432.7" r="2"/>
<path class="sol" d="M336.1 310.7 H354.9 M336.1 331.2 H354.9"/>
<circle class="fm" cx="345.3" cy="310.7" r="4.1"/>
<circle class="om" style="stroke-width:1.5" cx="345.3" cy="331.2" r="3.2"/>
<text x="358.8" y="316.5" style="font-size:14.6px" textLength="109.0" lengthAdjust="spacingAndGlyphs">zoledronic acid</text>
<text x="358.8" y="335.0" style="font-size:14.6px" textLength="42.0" lengthAdjust="spacingAndGlyphs">saline</text>
</svg>
</body>
</html>
